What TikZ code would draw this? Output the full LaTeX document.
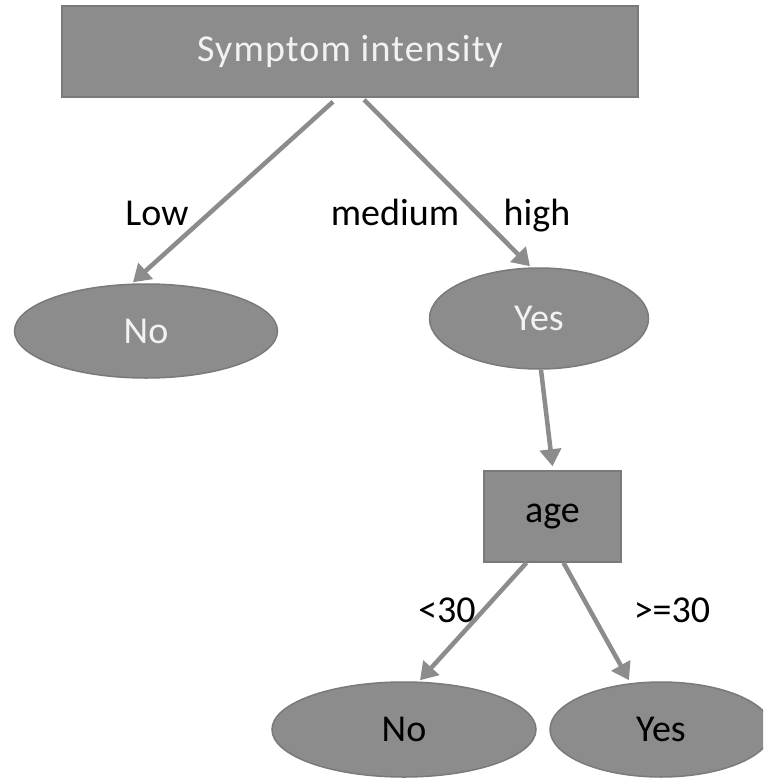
\documentclass[tikz,border=0pt]{standalone}
\usepackage{fontspec}
\setmainfont{Carlito}
\newfontfamily\titlefont[LetterSpace=3]{Carlito}
\usetikzlibrary{shapes.geometric,arrows.meta}
\definecolor{boxfill}{HTML}{8C8C8C}
\definecolor{boxline}{HTML}{7A7A7A}
\definecolor{lighttext}{HTML}{F2F2F2}
\begin{document}
\begin{tikzpicture}[x=1pt,y=-1pt,
  every node/.style={font=\fontsize{38}{40}\selectfont, inner sep=0pt},
  rectnode/.style={draw=boxline, line width=1.5pt, fill=boxfill},
  ellnode/.style={ellipse, draw=boxline, line width=1.5pt, fill=boxfill},
  conn/.style={draw=boxfill, line width=4.5pt, -{Triangle[length=17pt,width=21pt]}},
  lbl/.style={text=black, anchor=base}
]
\useasboundingbox (0,0) rectangle (763,779);
\clip (0,0) rectangle (763,779);
\fill[white] (0,0) rectangle (763,779);

\node[rectnode, minimum width=576pt, minimum height=91pt, text=lighttext, font=\titlefont\fontsize{38}{40}\selectfont] (top) at (350,51.5) {Symptom intensity};
\node[ellnode, minimum width=263pt, minimum height=94pt, text=lighttext] (no1) at (146,331) {No};
\node[ellnode, minimum width=219pt, minimum height=101pt, text=lighttext] (yes1) at (539,318.5) {Yes};
\node[rectnode, minimum width=137pt, minimum height=91pt, text=black] (age) at (552.5,516.5) {age};
\node[ellnode, minimum width=264pt, minimum height=95pt, text=black] (no2) at (404,729.5) {No};
\node[ellnode, minimum width=222pt, minimum height=95pt, text=black] (yes2) at (661,729.5) {Yes};

\draw[conn] ([xshift=-17pt,yshift=-4pt]top.south) -- ([xshift=-13pt,yshift=1pt]no1.north);
\draw[conn] ([xshift=14pt,yshift=-2pt]top.south) -- ([xshift=-9pt,yshift=1pt]yes1.north);
\draw[conn] ([xshift=2pt]yes1.south) -- ([yshift=4pt]age.north);
\draw[conn] ([xshift=-26pt]age.south) -- ([xshift=16pt,yshift=1pt]no2.north);
\draw[conn] ([xshift=11pt]age.south) -- ([xshift=-32pt,yshift=1pt]yes2.north);

\node[lbl] (lLow) at (157,225) {Low};
\node[lbl] (lMed) at (395,225) {medium};
\node[lbl] (lHigh) at (537,225) {high};
\node[lbl] (lLt) at (447,622) {<30};
\node[lbl] (lGe) at (672,622) {>=30};
\end{tikzpicture}
\end{document}
